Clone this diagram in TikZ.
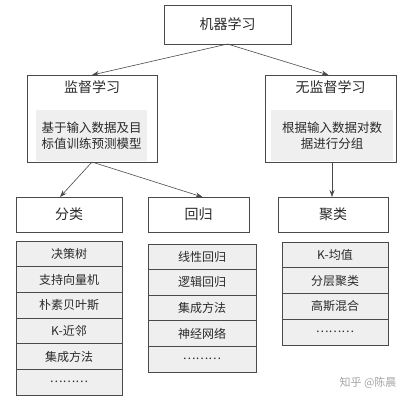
\documentclass[tikz,border=0pt]{standalone}
\usepackage{fontspec}
\setmainfont{Noto Sans CJK SC}
\usetikzlibrary{arrows.meta}
\definecolor{bordc}{HTML}{4A4A4A}
\definecolor{txtc}{HTML}{2A2A2A}
\definecolor{cellc}{HTML}{EFEFEF}
\begin{document}
\begin{tikzpicture}[x=1pt,y=-1pt,
  box/.style={draw=bordc,line width=0.8pt,fill=white,inner sep=0pt,outer sep=0pt,text=txtc},
  titletext/.style={inner sep=0pt,text=txtc,font=\fontsize{14}{16}\selectfont},
  desc/.style={fill=cellc,inner sep=0pt,text=txtc,align=center,font=\fontsize{12.5}{16.5}\selectfont},
  cell/.style={draw=bordc,line width=0.7pt,fill=cellc,inner sep=0pt,outer sep=0pt,text=txtc,font=\fontsize{12}{14}\selectfont},
  arr/.style={draw=bordc,line width=0.6pt,-{Stealth[length=7pt,width=5pt]}}]
\useasboundingbox[fill=white] (0,0) rectangle (411,400);
% top
\node[box,minimum width=127pt,minimum height=39pt,font=\fontsize{14}{16}\selectfont] (ml) at (227.5,24.5) {机器学习};
% supervised
\node[box,minimum width=130pt,minimum height=87pt] (sup) at (92,118.5) {};
\node[titletext] (supt) at (92,87) {监督学习};
\node[desc,minimum width=111pt,minimum height=51pt] (supd) at (91.5,135.5) {基于输入数据及目\\标值训练预测模型};
% unsupervised
\node[box,minimum width=131pt,minimum height=87pt] (uns) at (330.5,118.5) {};
\node[titletext] (unst) at (330.5,87) {无监督学习};
\node[desc,minimum width=122pt,minimum height=51pt] (unsd) at (332,135.5) {根据输入数据对数\\据进行分组};
% second level
\node[box,minimum width=106pt,minimum height=35pt,font=\fontsize{14}{16}\selectfont] (cls) at (69,214.5) {分类};
\node[box,minimum width=101pt,minimum height=35pt,font=\fontsize{14}{16}\selectfont] (reg) at (198.5,214.5) {回归};
\node[box,minimum width=110pt,minimum height=35pt,font=\fontsize{14}{16}\selectfont] (clu) at (333,214.5) {聚类};
% arrows
\draw[arr] (ml.south) -- (sup.north);
\draw[arr] (ml.south) -- ([xshift=-2pt]uns.north);
\draw[arr] (sup.south) -- ([xshift=-9pt]cls.north);
\draw[arr] (sup.south) -- ([xshift=4pt]reg.north);
\draw[arr] ([xshift=1.5pt]uns.south) -- ([xshift=-1pt]clu.north);
% lists
\foreach \t [count=\i] in {决策树,支持向量机,朴素贝叶斯,K-近邻,集成方法,………}{
  \node[cell,minimum width=106pt,minimum height=25.67pt] (c\i) at (69,{241+(\i-0.5)*25.67}) {\t};
}
\foreach \t [count=\i] in {线性回归,逻辑回归,集成方法,神经网络,………}{
  \node[cell,minimum width=108pt,minimum height=25.6pt] (r\i) at (202,{244+(\i-0.5)*25.6}) {\t};
}
\foreach \t [count=\i] in {K-均值,分层聚类,高斯混合,………}{
  \node[cell,minimum width=106pt,minimum height=25.75pt] (k\i) at (335,{242+(\i-0.5)*25.75}) {\t};
}
% watermark
\node[inner sep=0pt,text=black!35,font=\fontsize{11}{13}\selectfont] (wm) at (368,383) {知乎 @陈晨};
\end{tikzpicture}
\end{document}
